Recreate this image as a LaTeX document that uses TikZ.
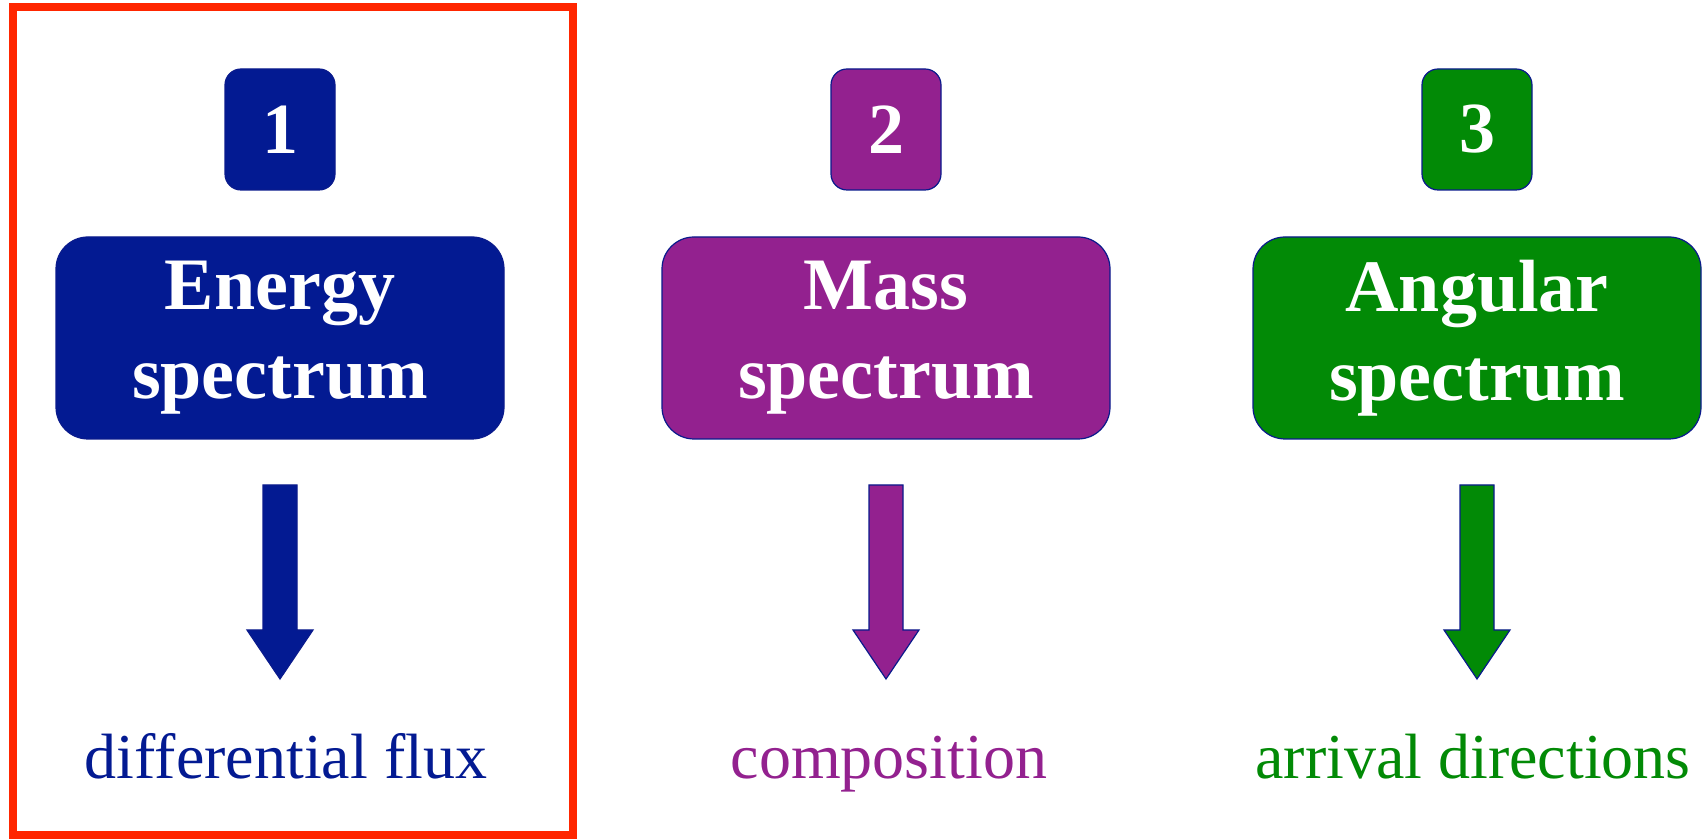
\documentclass[tikz,border=0pt]{standalone}
\usepackage{fontspec}
\setmainfont{Liberation Serif}
\definecolor{cBlu}{HTML}{031A92}
\definecolor{cPur}{HTML}{93218F}
\definecolor{cGrn}{HTML}{028A06}
\definecolor{cFrm}{HTML}{FF2600}
\definecolor{navy}{HTML}{0A1A8C}

\begin{document}
\begin{tikzpicture}[x=0.5pt,y=0.5pt,
  numbox/.style={draw=navy,line width=0.6pt,rounded corners=8pt,minimum width=55pt,minimum height=60.5pt,
                 inner sep=0pt,text=white,font=\fontsize{36}{43}\selectfont\bfseries},
  specbox/.style={draw=navy,line width=0.6pt,rounded corners=16pt,minimum width=224pt,minimum height=101pt,
                  inner sep=0pt,align=center,text=white,font=\fontsize{37}{44.5}\selectfont\bfseries},
  result/.style={anchor=base,font=\fontsize{32}{38}\selectfont},
  blockarrow/.style={draw=navy,line width=0.6pt}]
  \useasboundingbox (0,0) rectangle (1702,839);
  \draw[cFrm,line width=4pt] (13,4) rectangle (573,831.5);
  \foreach \i/\x/\tx/\c/\t/\r in {1/280/286/cBlu/Energy/differential flux, 2/886/889/cPur/Mass/composition,
                                  3/1477/1473/cGrn/Angular/arrival directions}{
    \node[numbox,fill=\c] (num\i) at (\x,709.5) {\i};
    \node[specbox,fill=\c] (spec\i) at (\x,501) {\t\\spectrum};
    \node[result,text=\c] (res\i) at (\tx,60) {\r};
    \coordinate (top\i) at (\x,354);
    \coordinate (tip\i) at (\x,160);
    \filldraw[blockarrow,fill=\c] (top\i) ++(-17,0) -- ++(34,0) -- ++(0,-145) -- ++(16,0) -- (tip\i)
      -- ++(-33,49) -- ++(16,0) -- cycle;
  }
\end{tikzpicture}
\end{document}
